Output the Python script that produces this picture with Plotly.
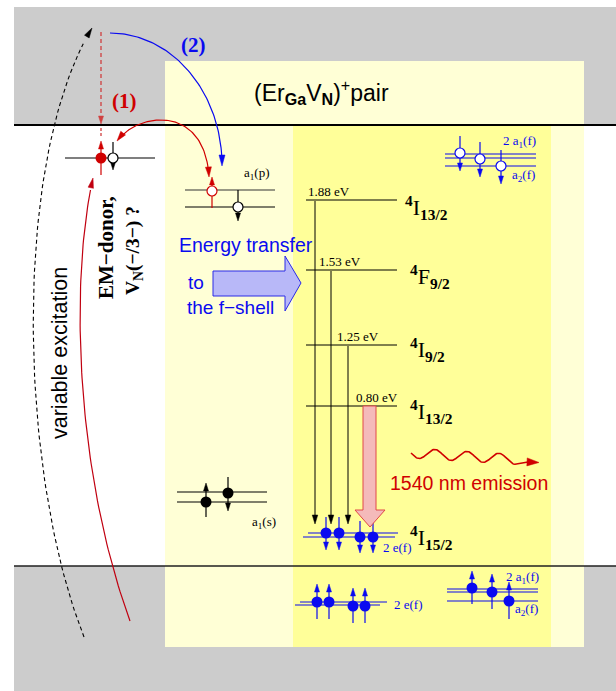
import numpy as np
import plotly.graph_objects as go

W, H = 616, 691

# ---------------- data (texts and level values) ----------------
level_energy_labels = ["1.88 eV", "1.53 eV", "1.25 eV", "0.80 eV"]
level_terms = [("I", "13/2"), ("F", "9/2"), ("I", "9/2"), ("I", "13/2")]
ground_term = ("I", "15/2")
pair_label = "(Er<sub><b>Ga</b></sub>V<sub><b>N</b></sub>)<sup>+</sup>pair"
donor_label_1 = "<b>EM−donor,</b>"
donor_label_2 = "<b>V<sub>N</sub>(−/3−) ?</b>"
excitation_label = "variable excitation"
transfer_lines = ["Energy transfer", "to", "the f−shell"]
emission_label = "1540 nm emission"
path_labels = ["<b>(1)</b>", "<b>(2)</b>"]

# ---------------- layout geometry (pixel frame) ----------------
level_y = [200, 270, 345, 406]
level_lbl_x = [307, 318, 336, 355]
term_x = [404, 409, 409, 409]
term_y = [207, 276, 349, 411]
ground_y = 535
trans_x = [315, 331, 348]

SERIF = "Liberation Serif"
SANS = "Liberation Sans"
BLUE = "#0A0AF0"
RED = "#D00000"

shapes = []
annots = []
traces = []


def rect(x0, y0, x1, y1, fill, line=None, lw=0):
    shapes.append(dict(type="rect", xref="x", yref="y", x0=x0, y0=y0, x1=x1, y1=y1,
                       fillcolor=fill, line=dict(color=line or fill, width=lw), layer="below"))


def seg(x0, y0, x1, y1, color, width=1.0, dash=None):
    ln = dict(color=color, width=width)
    if dash:
        ln["dash"] = dash
    shapes.append(dict(type="line", xref="x", yref="y", x0=x0, y0=y0, x1=x1, y1=y1,
                       line=ln, layer="below"))


def poly(pts, fill, line=None, lw=1.0):
    p = "M " + " L ".join(f"{a:.2f},{b:.2f}" for a, b in pts) + " Z"
    shapes.append(dict(type="path", xref="x", yref="y", path=p, fillcolor=fill,
                       line=dict(color=line or fill, width=lw), layer="below"))


def head(xt, yt, dx, dy, color, L=9, Wd=5.5):
    n = (dx * dx + dy * dy) ** 0.5
    ux, uy = dx / n, dy / n
    bx, by = xt - L * ux, yt - L * uy
    px, py = -uy, ux
    poly([(xt, yt), (bx + Wd / 2 * px, by + Wd / 2 * py), (bx - Wd / 2 * px, by - Wd / 2 * py)],
         color, color, 0.5)


filled_pts = {}
open_pts = {}


def electron(x, y, tip, tail, color, filled, r=5, L=9, Wd=5.5):
    d = 1 if tip > y else -1  # +1 -> arrow points down
    if filled:
        seg(x, tail, x, tip - d * (L - 1), color, 1.2)
        filled_pts.setdefault(color, []).append((x, y))
    else:
        seg(x, tail, x, y - d * r, color, 1.2)
        seg(x, y + d * r, x, tip - d * (L - 1), color, 1.2)
        open_pts.setdefault(color, []).append((x, y))
    head(x, tip, 0, d, color, L, Wd)


def txt(x, y, text, size, color="black", font=SERIF, xa="left", ya="middle", angle=0):
    annots.append(dict(x=x, y=y, xref="x", yref="y", text=text, showarrow=False,
                       font=dict(family=font, size=size, color=color),
                       xanchor=xa, yanchor=ya, textangle=angle, borderpad=0))


def bez(p0, p1, p2, p3, n=80):
    t = np.linspace(0, 1, n)[:, None]
    P = (1 - t) ** 3 * np.array(p0) + 3 * (1 - t) ** 2 * t * np.array(p1) \
        + 3 * (1 - t) * t ** 2 * np.array(p2) + t ** 3 * np.array(p3)
    return P[:, 0], P[:, 1]


def curve(xs, ys, color, width=1.2, dash=None):
    traces.append(go.Scatter(x=xs, y=ys, mode="lines", hoverinfo="skip",
                             line=dict(color=color, width=width, dash=dash)))


# ---------------- backgrounds ----------------
rect(14, 7, 616, 125, "#CCCCCC")
rect(14, 566, 616, 691, "#CCCCCC")
rect(165, 61, 584, 647, "#FFFFD6")
rect(293, 126, 551, 647, "#FFFF99")
seg(14, 125, 616, 125, "black", 2)
seg(14, 566, 616, 566, "#202020", 1.5)

# ---------------- Er levels ----------------
for yv in level_y:
    seg(306, yv, 397, yv, "black", 1)
for i, xv in enumerate(trans_x):
    seg(xv, level_y[i] + 1, xv, 516, "black", 1)
    head(xv, 524, 0, 1, "black", 9, 5.5)
for i, lab in enumerate(level_energy_labels):
    txt(level_lbl_x[i], level_y[i] - 9, lab, 13)
for i, (L_, J) in enumerate(level_terms):
    txt(term_x[i], term_y[i], f"<sup><b>4</b></sup>{L_}<sub><b>{J}</b></sub>", 22)
txt(409, ground_y + 2, f"<sup><b>4</b></sup>{ground_term[0]}<sub><b>{ground_term[1]}</b></sub>", 22)

# ground 4I15/2 blue electrons
seg(308, 533, 398, 533, BLUE, 1.2)
seg(303, 537, 395, 537, BLUE, 1.2)
for (ex, ey, top, tip) in [(326, 533, 517, 550), (339, 533, 517, 550), (360, 537, 521, 553), (373, 537, 521, 553)]:
    electron(ex, ey, tip, top, BLUE, True, r=5.5, L=8, Wd=5)
txt(382, 547, "2 e(f)", 13, BLUE)

# pink emission arrow
poly([(363, 406), (376, 406), (376, 510), (385, 510), (370, 527), (355, 510), (363, 510)],
     "#F4BABA", "#E04848", 1)

# wavy emission photon
wx = np.linspace(411, 515, 140)
wy = 453 + (wx - 411) * 0.06 + 5 * np.sin(2 * np.pi * (wx - 411) / 32)
wx = np.append(wx, 528)
wy = np.append(wy, 462)
curve(wx, wy, RED, 1.6)
head(539, 462.5, 1, 0.05, RED, 12, 8)
txt(389, 483, emission_label, 19.5, RED, SANS)

# top-right a1(f)/a2(f)
for yv in [154, 158, 166]:
    seg(445, yv, 536, yv, BLUE, 1.2)
for (ex, ey, top, tip) in [(460, 153, 136, 171), (480, 159, 142, 177), (501, 166, 150, 184)]:
    electron(ex, ey, tip, top, BLUE, False, r=5, L=8, Wd=5)
txt(502, 141, "2 a<sub>1</sub>(f)", 13, BLUE)
txt(511, 175, "a<sub>2</sub>(f)", 13, BLUE)

# bottom 2 e(f)
seg(300, 602, 387, 602, BLUE, 1.2)
seg(295, 605, 380, 605, BLUE, 1.2)
for (ex, ey, tail, tip) in [(317, 602, 619, 584), (329, 602, 619, 584), (353, 606, 623, 588), (365, 606, 623, 588)]:
    electron(ex, ey, tip, tail, BLUE, True, r=5.5, L=8, Wd=5)
txt(393, 604, "2 e(f)", 13, BLUE)

# bottom right a1(f)/a2(f)
for yv in [589, 592, 601]:
    seg(447, yv, 538, yv, BLUE, 1.2)
for (ex, ey, tail, tip) in [(472, 588, 604, 571), (492, 592, 609, 574), (509, 601, 619, 582)]:
    electron(ex, ey, tip, tail, BLUE, True, r=5.5, L=8, Wd=5)
txt(505, 577, "2 a<sub>1</sub>(f)", 13, BLUE)
txt(514, 609, "a<sub>2</sub>(f)", 13, BLUE)

# a1(s)
seg(177, 492, 267, 492, "black", 1.2)
seg(177, 502, 267, 502, "black", 1.2)
electron(206, 502, 483, 517, "black", True, r=5.5, L=8, Wd=5)
electron(228, 493, 511, 477, "black", True, r=5.5, L=8, Wd=5)
txt(251, 522, "a<sub>1</sub>(s)", 13)

# a1(p)
seg(185, 190, 275, 190, "#333333", 1.2)
seg(185, 207, 275, 207, "black", 1.2)
electron(212, 191, 177, 208, RED, False, r=5, L=8, Wd=5)
electron(238, 207, 221, 190, "black", False, r=5, L=8, Wd=5)
txt(257, 173, "a<sub>1</sub>(p)", 13, xa="center")

# donor level
seg(65, 158, 155, 158, "black", 1.2)
seg(101, 32, 101, 116, "#D04040", 1.3, "4px,3px")
head(101, 124, 0, 1, "#D04040", 8, 5)
seg(101, 128, 101, 136, "#D04040", 1.3, "3px,2px")
electron(101, 158, 141, 175, RED, True, r=5.5, L=8, Wd=5)
electron(113, 158, 170, 142, "black", False, r=5, L=8, Wd=5)

# curves
bx_, by_ = bez((84, 637), (18, 470), (12, 160), (92, 28))
curve(bx_[:-3], by_[:-3], "black", 1.1, "4px,3px")
head(92, 28, 80, -132, "black", 10, 5.5)

bx_, by_ = bez((130, 621), (75, 470), (70, 280), (93, 178))
curve(bx_[:-3], by_[:-3], "#C00010", 1.2)
head(93, 178, 23, -100, "#C00010", 10, 5.5)

bx_, by_ = bez((119, 139), (140, 112), (205, 105), (209, 177))
curve(bx_[3:-3], by_[3:-3], RED, 1.2)
head(117, 141, -21, 27, RED, 10, 6)
head(209, 177, 4, 70, RED, 10, 6)

th = np.linspace(0, np.arccos(10 / 132), 80)
curve(110 + 112 * np.sin(th), 165 - 132 * np.cos(th), BLUE, 1.2)
head(222, 166, 0, 1, BLUE, 11, 6)

txt(124, 101, path_labels[0], 21, RED, xa="center")
txt(193, 45, path_labels[1], 21, BLUE, xa="center")

# energy transfer block arrow
poly([(213, 271), (285, 271), (285, 256), (301, 283), (285, 311), (285, 296), (213, 296)],
     "#B8B8F8", "#2A2AE8", 1)
txt(178, 245, transfer_lines[0], 19.5, BLUE, SANS)
txt(187, 282, transfer_lines[1], 19, BLUE, SANS)
txt(186, 307, transfer_lines[2], 19, BLUE, SANS)

# big labels
txt(321, 92, pair_label, 23, "black", SANS, xa="center")
txt(60, 353, excitation_label, 21.5, "black", SANS, xa="center", angle=-90)
txt(106, 248, donor_label_1, 21, "black", SERIF, xa="center", angle=-90)
txt(134, 251, donor_label_2, 19.5, "black", SERIF, xa="center", angle=-90)

# circles (markers on top)
for col, pts in filled_pts.items():
    traces.append(go.Scatter(x=[p[0] for p in pts], y=[p[1] for p in pts], mode="markers",
                             hoverinfo="skip",
                             marker=dict(size=11, color=col, line=dict(width=0))))
for col, pts in open_pts.items():
    traces.append(go.Scatter(x=[p[0] for p in pts], y=[p[1] for p in pts], mode="markers",
                             hoverinfo="skip",
                             marker=dict(size=10, color="white", line=dict(width=1.2, color=col))))

fig = go.Figure(traces)
fig.update_layout(
    width=W, height=H, margin=dict(l=0, r=0, t=0, b=0),
    paper_bgcolor="white", plot_bgcolor="white", showlegend=False,
    xaxis=dict(range=[0, W], visible=False, fixedrange=True),
    yaxis=dict(range=[H, 0], visible=False, fixedrange=True),
    shapes=shapes, annotations=annots,
)
fig.write_html("out.html", config={"displayModeBar": False},
               post_script="document.body.style.margin='0px';document.body.style.overflow='hidden';")
